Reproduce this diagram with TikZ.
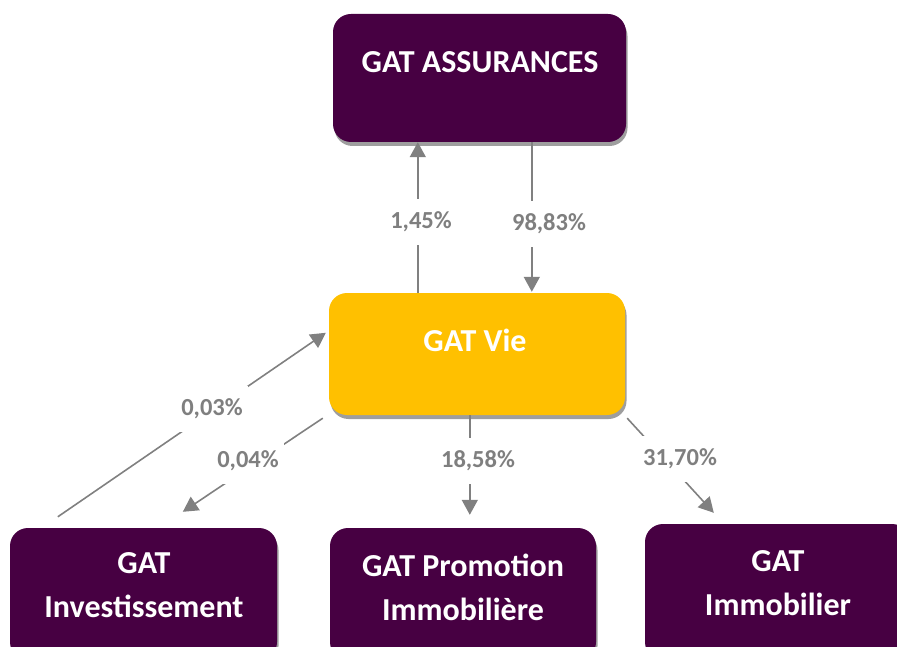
\documentclass[tikz,border=0pt]{standalone}
\usepackage{fontspec}
\setmainfont{Carlito}
\usetikzlibrary{shadows,arrows.meta}
\definecolor{gatpurple}{HTML}{470042}
\definecolor{gatgold}{HTML}{FFC000}
\definecolor{gatgray}{HTML}{808080}
\definecolor{labgray}{HTML}{7F7F7F}
\tikzset{
  box/.style={rectangle, rounded corners=18pt, inner sep=0pt,
    drop shadow={shadow xshift=1.5pt, shadow yshift=-4pt, fill=black!38, opacity=1}},
  pbox/.style={box, fill=gatpurple},
  gbox/.style={box, fill=gatgold},
  boxtext/.style={text=white, font=\fontsize{32}{44}\selectfont\bfseries, align=center, inner sep=0pt},
  arr/.style={draw=gatgray, line width=1.6pt, -{Triangle[length=15pt,width=16pt]}},
  pct/.style={text=labgray, font=\fontsize{24.5}{26}\selectfont\bfseries, fill=white, inner xsep=5pt, inner ysep=13pt}
}
\begin{document}
\begin{tikzpicture}[x=1pt,y=-1pt]
\useasboundingbox (0,0) rectangle (897,647);
\clip (0,0) rectangle (897,647);
% boxes
\node[pbox, minimum width=293pt, minimum height=128pt] (ass) at (479.5,78) {};
\node[gbox, minimum width=296pt, minimum height=122pt] (vie) at (477,354) {};
\node[pbox, minimum width=267pt, minimum height=132pt] (inv) at (143.5,594) {};
\node[pbox, minimum width=266pt, minimum height=132pt] (pro) at (463,594) {};
\node[pbox, minimum width=265pt, minimum height=136pt] (imm) at (777.5,592) {};
% texts
\node[boxtext] (tass) at (480,62) {GAT ASSURANCES};
\node[boxtext] (tvie) at (475,340) {GAT Vie};
\node[boxtext] (tinv) at (144,585) {GAT\\Investissement};
\node[boxtext] (tpro) at (463,587) {GAT Promotion\\Immobilière};
\node[boxtext] (timm) at (778,583) {GAT\\Immobilier};
% connectors
\draw[arr] ([xshift=89pt]vie.north west) -- ([xshift=85pt]ass.south west);
\draw[arr] ([xshift=199pt]ass.south west) -- ([xshift=203pt,yshift=1pt]vie.north west);
\draw[arr] ([xshift=48pt,yshift=11pt]inv.north west) -- ([xshift=-3pt,yshift=-40pt]vie.north west);
\draw[arr] ([xshift=-6pt,yshift=-3pt]vie.south west) -- ([xshift=173pt,yshift=16pt]inv.north west);
\draw[arr] ([xshift=141pt]vie.south west) -- ([xshift=140pt,yshift=13pt]pro.north west);
\draw[arr] ([xshift=2pt,yshift=-3pt]vie.south east) -- ([xshift=69pt,yshift=11pt]imm.north west);
% labels
\node[pct] (l1) at (421,222) {1,45\%};
\node[pct] (l2) at (549,224) {98,83\%};
\node[pct] (l3) at (212,409) {0,03\%};
\node[pct] (l4) at (248,461) {0,04\%};
\node[pct] (l5) at (478,461) {18,58\%};
\node[pct] (l6) at (680,459) {31,70\%};
\end{tikzpicture}
\end{document}
